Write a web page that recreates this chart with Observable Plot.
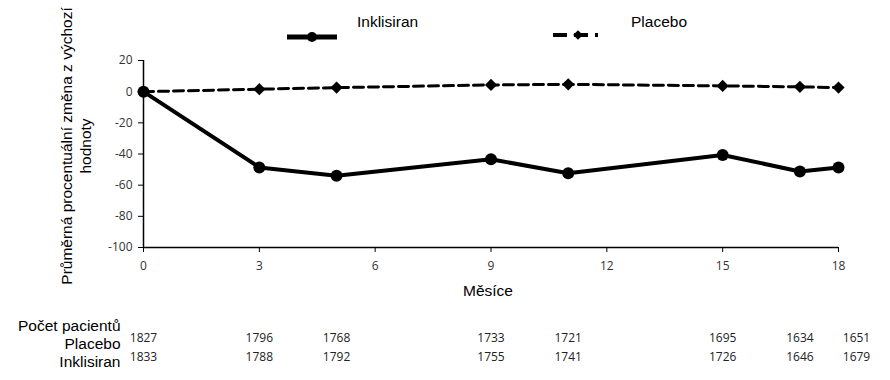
<!DOCTYPE html>
<html>
<head>
<meta charset="utf-8">
<script src="https://cdn.jsdelivr.net/npm/d3@7"></script>
<script src="https://cdn.jsdelivr.net/npm/@observablehq/plot@0.6"></script>
<style>
  body { margin: 0; background: #fff; }
  #wrap { position: relative; width: 890px; height: 380px; font-family: "Liberation Sans", Arial, sans-serif; }
  #legend { position: absolute; left: 0; top: 0; }
</style>
</head>
<body>
<div id="wrap"></div>
<script>
// ---- data ----
const months = [0, 3, 5, 9, 11, 15, 17, 18];
const inklisiran = [0, -48.6, -53.9, -43.4, -52.4, -40.6, -51.2, -48.6];
const placebo = [0, 1.6, 2.6, 4.3, 4.7, 3.7, 3.1, 2.6];
const xTicks = [0, 3, 6, 9, 12, 15, 18];
const yTicks = [-100, -80, -60, -40, -20, 0, 20];
const nPlacebo = [1827, 1796, 1768, 1733, 1721, 1695, 1634, 1651];
const nInklisiran = [1833, 1788, 1792, 1755, 1741, 1726, 1646, 1679];
const seriesNames = ["Inklisiran", "Placebo"];
const rowLabels = ["Počet pacientů", "Placebo", "Inklisiran"];
const yLabel = "Průměrná procentuální změna z výchozí\nhodnoty";
const xLabel = "Měsíce";

const inkData = months.map((m, i) => ({month: m, value: inklisiran[i]}));
const plaData = months.map((m, i) => ({month: m, value: placebo[i]}));
const table = months.map((m, i) => ({month: m, p: String(nPlacebo[i]), k: String(nInklisiran[i]), last: i === months.length - 1}));

const numFont = "'Open Sans', 'Liberation Sans', sans-serif";

const chart = Plot.plot({
  width: 890,
  height: 380,
  marginTop: 60,
  marginBottom: 133,
  marginLeft: 143,
  marginRight: 52,
  style: {fontFamily: "'Liberation Sans', Arial, sans-serif", background: "#fff", overflow: "visible"},
  x: {domain: [0, 18]},
  y: {domain: [-100, 20]},
  marks: [
    Plot.axisY({ticks: yTicks, tickFormat: d => String(d), tickSize: 5, tickPadding: 6, label: null, fontSize: 12, fontFamily: numFont, color: "#333", stroke: "#000"}),
    Plot.axisX({ticks: xTicks, tickFormat: d => String(d), tickSize: 5, tickPadding: 9, label: null, fontSize: 12, fontFamily: numFont, color: "#333", stroke: "#000"}),
    Plot.ruleX([0], {stroke: "#000", strokeWidth: 1.5}),
    Plot.ruleY([-100], {stroke: "#000", strokeWidth: 1.5}),
    // placebo
    Plot.line(plaData, {x: "month", y: "value", stroke: "#000", strokeWidth: 3, strokeDasharray: "10,5"}),
    Plot.dot(plaData, {x: "month", y: "value", symbol: "diamond2", r: 5.5, fill: "#000", stroke: "none"}),
    // inklisiran
    Plot.line(inkData, {x: "month", y: "value", stroke: "#000", strokeWidth: 4}),
    Plot.dot(inkData, {x: "month", y: "value", r: 6, fill: "#000", stroke: "none"}),
    // axis labels
    Plot.text([xLabel], {frameAnchor: "bottom", dx: -3, dy: 48, fontSize: 15.5, fill: "#000"}),
    Plot.text([yLabel], {frameAnchor: "left", textAnchor: "middle", lineAnchor: "middle", dx: -68, dy: -8, rotate: -90, fontSize: 15.5, lineHeight: 1.2, fill: "#000"}),
    // table
    Plot.text([rowLabels[0]], {frameAnchor: "bottom-left", dx: -23, dy: 83, textAnchor: "end", fontSize: 15.5, fill: "#000"}),
    Plot.text([rowLabels[1]], {frameAnchor: "bottom-left", dx: -23, dy: 101, textAnchor: "end", fontSize: 15.5, fill: "#000"}),
    Plot.text([rowLabels[2]], {frameAnchor: "bottom-left", dx: -23, dy: 119, textAnchor: "end", fontSize: 15.5, fill: "#000"}),
    Plot.text(table.filter(d => !d.last), {x: "month", frameAnchor: "bottom", dy: 94, text: "p", fontSize: 12, fontFamily: numFont, fill: "#222"}),
    Plot.text(table.filter(d => !d.last), {x: "month", frameAnchor: "bottom", dy: 113, text: "k", fontSize: 12, fontFamily: numFont, fill: "#222"}),
    Plot.text(table.filter(d => d.last), {x: "month", frameAnchor: "bottom", dx: 18, dy: 94, text: "p", fontSize: 12, fontFamily: numFont, fill: "#222"}),
    Plot.text(table.filter(d => d.last), {x: "month", frameAnchor: "bottom", dx: 18, dy: 113, text: "k", fontSize: 12, fontFamily: numFont, fill: "#222"})
  ]
});

const wrap = document.getElementById("wrap");
wrap.appendChild(chart);

// legend overlay
const leg = d3.select(wrap).append("svg")
  .attr("id", "legend").attr("width", 890).attr("height", 60)
  .style("font-family", "'Liberation Sans', Arial, sans-serif");
// Inklisiran
leg.append("line").attr("x1", 287).attr("x2", 337).attr("y1", 37).attr("y2", 37)
  .attr("stroke", "#000").attr("stroke-width", 5);
leg.append("circle").attr("cx", 312).attr("cy", 37).attr("r", 5).attr("fill", "#000");
leg.append("text").attr("x", 357).attr("y", 22).attr("dy", "0.35em").attr("font-size", 15.5).text(seriesNames[0]);
// Placebo
leg.append("line").attr("x1", 553).attr("x2", 605).attr("y1", 35).attr("y2", 35)
  .attr("stroke", "#000").attr("stroke-width", 4).attr("stroke-dasharray", "14,7,14,7,3");
leg.append("path").attr("d", d3.symbol(d3.symbolDiamond2, 60)()).attr("transform", "translate(578,35)").attr("fill", "#000");
leg.append("text").attr("x", 631).attr("y", 22).attr("dy", "0.35em").attr("font-size", 15.5).text(seriesNames[1]);
</script>
</body>
</html>
